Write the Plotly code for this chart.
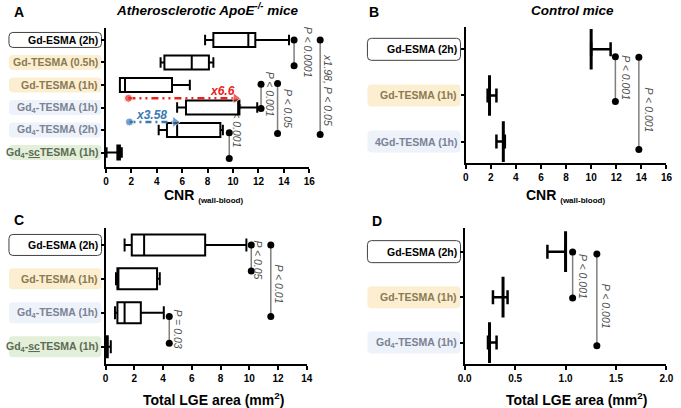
import plotly.graph_objects as go

W, H = 681, 408
FONT = "Liberation Sans, Arial, sans-serif"

# ---------------- Panel A : CNR, atherosclerotic mice (box plots) ----------------
a_labels = ["Gd-ESMA (2h)", "Gd-TESMA (0.5h)", "Gd-TESMA (1h)",
            "Gd<sub>4</sub>-TESMA (1h)", "Gd<sub>4</sub>-TESMA (2h)",
            "Gd<sub>4</sub>-<u>sc</u>TESMA (1h)"]
a_lower = [7.8, 4.3, 1.1, 5.6, 4.15, 0.05]
a_q1 = [8.45, 4.6, 1.1, 6.3, 4.8, 0.9]
a_median = [11.2, 6.75, 1.5, 10.4, 5.6, 1.0]
a_q3 = [11.75, 8.1, 5.2, 10.5, 9.0, 1.1]
a_upper = [14.4, 8.45, 6.6, 11.9, 9.2, 1.25]
a_pos = list(range(len(a_labels)))

a_br_x = [14.8, 16.85, 12.2, 13.5, 9.7]
a_br_y0 = [0.0, 0.0, 1.97, 1.93, 4.12]
a_br_y1 = [1.15, 4.2, 3.04, 4.15, 5.26]
a_p_text = ["P < 0.0001", "x1.98, P < 0.05", "P < 0.001", "P < 0.05"]
a_p_x = [15.95, 17.5, 12.87, 14.28]
a_p_y = [0.56, 2.25, 2.41, 3.04]
a_hidden_p_text = "P < 0.001"
a_hidden_p_x = 10.38
a_hidden_p_y = 3.78

a_red_x = [1.77, 10.2]
a_red_y = [2.59, 2.59]
a_red_text, a_red_tx, a_red_ty = "x6.6", 9.2, 2.27
a_blue_x = [1.85, 5.45]
a_blue_y = [3.64, 3.64]
a_blue_text, a_blue_tx, a_blue_ty = "x3.58", 3.56, 3.35

# ---------------- Panel B : CNR, control mice (mean + error) ----------------
b_labels = ["Gd-ESMA (2h)", "Gd-TESMA (1h)", "4Gd-TESMA (1h)"]
b_mean = [10.0, 1.9, 3.0]
b_err_plus = [1.55, 0.55, 0.12]
b_err_minus = [0.0, 0.15, 0.55]
b_pos = list(range(len(b_labels)))
b_br_x = [11.93, 13.8]
b_br_y0 = [0.16, 0.17]
b_br_y1 = [1.13, 2.17]
b_p_text = ["P < 0.001", "P < 0.001"]
b_p_x = [12.76, 14.58]
b_p_y = [0.62, 1.32]

# ---------------- Panel C : LGE area, atherosclerotic mice (box plots) ----------------
c_labels = ["Gd-ESMA (2h)", "Gd-TESMA (1h)", "Gd<sub>4</sub>-TESMA (1h)",
            "Gd<sub>4</sub>-<u>sc</u>TESMA (1h)"]
c_lower = [1.32, 0.72, 0.65, 0.02]
c_q1 = [1.82, 0.82, 0.82, 0.06]
c_median = [2.68, 0.85, 1.32, 0.1]
c_q3 = [6.93, 3.58, 2.45, 0.15]
c_upper = [9.8, 3.77, 4.05, 0.36]
c_pos = list(range(len(c_labels)))
c_br_x = [10.14, 11.5, 4.43]
c_br_y0 = [0.0, 0.0, 2.11]
c_br_y1 = [0.77, 2.11, 2.9]
c_p_text = ["P < 0.05", "P < 0.01", "P = 0.03"]
c_p_x = [10.64, 12.1, 5.07]
c_p_y = [0.44, 1.15, 2.48]

# ---------------- Panel D : LGE area, control mice (mean + error) ----------------
d_labels = ["Gd-ESMA (2h)", "Gd-TESMA (1h)", "Gd<sub>4</sub>-TESMA (1h)"]
d_mean = [1.0, 0.38, 0.246]
d_err_plus = [0.0, 0.045, 0.07]
d_err_minus = [0.18, 0.1, 0.015]
d_pos = list(range(len(d_labels)))
d_br_x = [1.07, 1.31]
d_br_y0 = [0.01, 0.05]
d_br_y1 = [1.02, 2.07]
d_p_text = ["P < 0.001", "P < 0.001"]
d_p_x = [1.175, 1.40]
d_p_y = [0.54, 1.21]

# ---------------- styles ----------------
YEL, BLU, GRN = "#fcefd1", "#eef2fa", "#e3efd9"
T_YEL, T_BLU, T_GRN = "#8a7a52", "#7a8394", "#5c6b55"
a_fill = ["white", YEL, YEL, BLU, BLU, GRN]
a_tcol = ["black", T_YEL, T_YEL, T_BLU, T_BLU, T_GRN]
b_fill = ["white", YEL, BLU]
b_tcol = ["black", T_YEL, T_BLU]
c_fill = ["white", YEL, BLU, GRN]
c_tcol = ["black", T_YEL, T_BLU, T_GRN]
d_fill = b_fill
d_tcol = b_tcol

# panel geometry in pixels: (x0, x1), (ytop, ybottom), x-range, y-range [bottom, top]
PA = dict(px=(101, 308.7), py=(28, 167), xr=[0, 16], yr=[5.64, -0.53])
PB = dict(px=(468.3, 673.3), py=(26.7, 163.3), xr=[0, 16], yr=[2.47, -0.49])
PC = dict(px=(100.7, 306), py=(228, 364.3), xr=[0, 14], yr=[3.52, -0.5])
PD = dict(px=(467.3, 673.3), py=(228, 364), xr=[0, 2], yr=[2.47, -0.52])


def dx(p):
    return [p[0] / W, p[1] / W]


def dy(p):
    return [1 - p[1] / H, 1 - p[0] / H]


def cat_to_px(P, v):
    top, bot = P["py"]
    yb, yt = P["yr"]
    return top + (v - yt) / (yb - yt) * (bot - top)


def rrect(x0, y0, x1, y1, r):
    X = lambda v: v / W
    Y = lambda v: 1 - v / H
    return (f"M {X(x0 + r)},{Y(y0)} L {X(x1 - r)},{Y(y0)} Q {X(x1)},{Y(y0)} {X(x1)},{Y(y0 + r)} "
            f"L {X(x1)},{Y(y1 - r)} Q {X(x1)},{Y(y1)} {X(x1 - r)},{Y(y1)} "
            f"L {X(x0 + r)},{Y(y1)} Q {X(x0)},{Y(y1)} {X(x0)},{Y(y1 - r)} "
            f"L {X(x0)},{Y(y0 + r)} Q {X(x0)},{Y(y0)} {X(x0 + r)},{Y(y0)} Z")


fig = go.Figure()

# box plots
fig.add_trace(go.Box(orientation="h", y=a_pos, q1=a_q1, median=a_median, q3=a_q3,
                     lowerfence=a_lower, upperfence=a_upper, width=0.62, whiskerwidth=0.75,
                     line=dict(color="black", width=2), fillcolor="white", boxpoints=False,
                     xaxis="x", yaxis="y", showlegend=False, hoverinfo="skip"))
fig.add_trace(go.Box(orientation="h", y=c_pos, q1=c_q1, median=c_median, q3=c_q3,
                     lowerfence=c_lower, upperfence=c_upper, width=0.62, whiskerwidth=0.62,
                     line=dict(color="black", width=2), fillcolor="white", boxpoints=False,
                     xaxis="x3", yaxis="y3", showlegend=False, hoverinfo="skip"))

# mean + error bars
for xm, yp, ep, em, xa, ya in [(b_mean, b_pos, b_err_plus, b_err_minus, "x2", "y2"),
                               (d_mean, d_pos, d_err_plus, d_err_minus, "x4", "y4")]:
    fig.add_trace(go.Scatter(x=xm, y=yp, mode="markers",
                             marker=dict(symbol="line-ns", size=29, line=dict(width=3, color="black")),
                             error_x=dict(type="data", symmetric=False, array=ep, arrayminus=em,
                                          width=7, thickness=2.5, color="black"),
                             xaxis=xa, yaxis=ya, showlegend=False, hoverinfo="skip"))

# arrows in A
fig.add_trace(go.Scatter(x=a_red_x, y=a_red_y, mode="lines+markers",
                         line=dict(color="#e8231c", width=2.5, dash="7px,4px,2px,4px,2px,4px"),
                         marker=dict(symbol=["circle", "triangle-right"], size=[8, 10], color="#e8231c"),
                         xaxis="x", yaxis="y", showlegend=False, hoverinfo="skip", cliponaxis=False))
fig.add_trace(go.Scatter(x=a_blue_x, y=a_blue_y, mode="lines+markers",
                         line=dict(color="#3a78b5", width=2.5, dash="6px,4px,2px,4px"),
                         marker=dict(symbol=["circle", "triangle-right"], size=[8, 10], color="#3a78b5"),
                         xaxis="x", yaxis="y", showlegend=False, hoverinfo="skip", cliponaxis=False))


def brackets(bx, y0, y1, xa, ya):
    xs, ys = [], []
    for b, u, v in zip(bx, y0, y1):
        xs += [b, b, None]
        ys += [u, v, None]
    fig.add_trace(go.Scatter(x=xs, y=ys, mode="lines+markers",
                             line=dict(color="#7f7f7f", width=1.5),
                             marker=dict(color="black", size=7),
                             xaxis=xa, yaxis=ya, showlegend=False, hoverinfo="skip",
                             cliponaxis=False))


brackets(a_br_x, a_br_y0, a_br_y1, "x5", "y5")
brackets(b_br_x, b_br_y0, b_br_y1, "x2", "y2")
brackets(c_br_x, c_br_y0, c_br_y1, "x3", "y3")
brackets(d_br_x, d_br_y0, d_br_y1, "x4", "y4")

ann = []
shapes = []


def ptexts(texts, xs, ys, xr, yr):
    for t, x, y in zip(texts, xs, ys):
        ann.append(dict(text=f"<i>{t}</i>", x=x, y=y, xref=xr, yref=yr, showarrow=False,
                        textangle=90, font=dict(family=FONT, size=10.5, color="#505050"),
                        xanchor="center", yanchor="middle"))


ptexts(a_p_text, a_p_x, a_p_y, "x5", "y5")
ptexts(b_p_text, b_p_x, b_p_y, "x2", "y2")
ptexts(c_p_text, c_p_x, c_p_y, "x3", "y3")
ptexts(d_p_text, d_p_x, d_p_y, "x4", "y4")

# P text partly hidden behind the Gd4-TESMA (1h) box (drawn below traces)
shapes.append(dict(type="rect", xref="x", yref="y", layer="below",
                   x0=a_hidden_p_x - 0.4, x1=a_hidden_p_x + 0.4,
                   y0=a_hidden_p_y - 0.5, y1=a_hidden_p_y + 0.5,
                   line=dict(width=0), fillcolor="rgba(0,0,0,0)",
                   label=dict(text=f"<i>{a_hidden_p_text}</i>", textangle=90,
                              textposition="middle center",
                              font=dict(family=FONT, size=10.5, color="#505050"))))

ann.append(dict(text=f"<b><i>{a_red_text}</i></b>", x=a_red_tx, y=a_red_ty, xref="x", yref="y",
                showarrow=False, font=dict(family=FONT, size=12, color="#e8231c")))
ann.append(dict(text=f"<b><i>{a_blue_text}</i></b>", x=a_blue_tx, y=a_blue_ty, xref="x", yref="y",
                showarrow=False, font=dict(family=FONT, size=12, color="#3a78b5")))


def labels(P, labs, fills, tcols, x0, x1, hpx, yr):
    for i, (lab, fc, tc) in enumerate(zip(labs, fills, tcols)):
        cy = cat_to_px(P, i)
        border = dict(color="#404040", width=1) if fc == "white" else dict(width=0)
        shapes.append(dict(type="path", xref="paper", yref="paper", layer="below",
                           path=rrect(x0, cy - hpx / 2, x1, cy + hpx / 2, 4),
                           fillcolor=fc, line=border))
        ann.append(dict(text=f"<b>{lab}</b>", x=(x1 - 1.5) / W, y=i, xref="paper", yref=yr,
                        xanchor="right", yanchor="middle", showarrow=False,
                        font=dict(family=FONT, size=10.5, color=tc)))


labels(PA, a_labels, a_fill, a_tcol, 2, 96.5, 15, "y")
labels(PB, b_labels, b_fill, b_tcol, 368, 463, 22, "y2")
labels(PC, c_labels, c_fill, c_tcol, 2, 96.5, 21, "y3")
labels(PD, d_labels, d_fill, d_tcol, 368, 463, 22, "y4")


def ptext(t, x, y, size, **kw):
    ann.append(dict(text=t, x=x / W, y=1 - y / H, xref="paper", yref="paper", showarrow=False,
                    xanchor="center", yanchor="middle",
                    font=dict(family=FONT, size=size, color="black"), **kw))


ptext("<b>A</b>", 12, 12, 14)
ptext("<b>B</b>", 375, 12, 14)
ptext("<b>C</b>", 12, 220, 14)
ptext("<b>D</b>", 378, 221, 14)
ptext("<b><i>Atherosclerotic ApoE<sup>-/-</sup> mice</i></b>", 204, 9, 13.5)
ptext("<b><i>Control mice</i></b>", 577, 10, 13.5)
sub = "<sub><span style='font-size:8px'>(wall-blood)</span></sub>"
ptext(f"<b>CNR {sub}</b>", 201, 196, 14)
ptext(f"<b>CNR {sub}</b>", 570, 196, 14)
ptext("<b>Total LGE area (mm<sup>2</sup>)</b>", 211, 399, 14)
ptext("<b>Total LGE area (mm<sup>2</sup>)</b>", 581, 399, 14)

xcommon = dict(showline=True, linecolor="black", linewidth=2, ticks="outside", ticklen=4,
               tickwidth=2, tickcolor="black", showgrid=False, zeroline=False, fixedrange=True,
               tickfont=dict(family=FONT, size=10, color="black", weight="bold"))
ycommon = dict(showline=True, linecolor="black", linewidth=2, ticks="outside", ticklen=3,
               tickwidth=1.5, tickcolor="black", showgrid=False, zeroline=False, fixedrange=True,
               showticklabels=False)

layout = dict(width=W, height=H, margin=dict(l=0, r=0, t=0, b=0),
              paper_bgcolor="white", plot_bgcolor="rgba(0,0,0,0)",
              font=dict(family=FONT), showlegend=False,
              annotations=ann, shapes=shapes)

for k, P, n, dt, fmt in [("", PA, len(a_labels), 2, None), ("2", PB, len(b_labels), 2, None),
                         ("3", PC, len(c_labels), 2, None), ("4", PD, len(d_labels), 0.5, ".1f")]:
    xa = dict(xcommon, domain=dx(P["px"]), range=P["xr"], anchor="y" + k, tick0=0, dtick=dt)
    if fmt:
        xa["tickformat"] = fmt
    layout["xaxis" + k] = xa
    layout["yaxis" + k] = dict(ycommon, domain=dy(P["py"]), range=P["yr"], anchor="x" + k,
                               tickvals=list(range(n)))

# invisible overlay frame for panel A brackets (same scale, wider area)
ext = 345
layout["xaxis5"] = dict(domain=[PA["px"][0] / W, ext / W], visible=False, fixedrange=True,
                        range=[0, PA["xr"][1] * (ext - PA["px"][0]) / (PA["px"][1] - PA["px"][0])],
                        anchor="y5")
layout["yaxis5"] = dict(domain=dy(PA["py"]), range=PA["yr"], visible=False, fixedrange=True,
                        anchor="x5")

fig.update_layout(**layout)
fig.write_html("out.html", config={"displayModeBar": False},
               post_script="document.body.style.margin='0px';document.body.style.overflow='hidden';")
